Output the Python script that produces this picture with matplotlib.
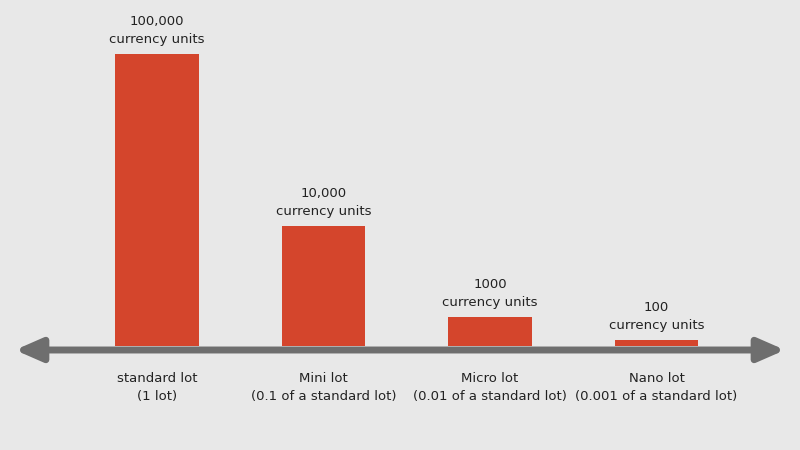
import matplotlib.pyplot as plt

# chart values
lots = ["standard lot\n(1 lot)", "Mini lot\n(0.1 of a standard lot)",
        "Micro lot\n(0.01 of a standard lot)", "Nano lot\n(0.001 of a standard lot)"]
units = ["100,000", "10,000", "1000", "100"]
# bar heights as drawn (visual scale, not proportional)
heights = [292, 120, 29, 6]

bg = "#e8e8e8"
fig = plt.figure(figsize=(8, 4.5), dpi=100, facecolor=bg)
ax = fig.add_axes([0, 0, 1, 1])
ax.set_facecolor(bg)
ax.set_xlim(-157 / 166.5, 643 / 166.5)
ax.set_ylim(-100, 350)
ax.axis("off")

x = range(len(lots))
ax.bar(x, heights, width=0.5, bottom=4, color="#d4452c", zorder=2)

# axis arrow
ax.annotate("", xy=(785 / 166.5 - 157 / 166.5, 0), xytext=(15 / 166.5 - 157 / 166.5, 0),
            arrowprops=dict(arrowstyle="<|-|>,head_length=1.6,head_width=0.7",
                            color="#6e6e6e", lw=5, shrinkA=0, shrinkB=0), zorder=3)

for i, h in enumerate(heights):
    ax.text(i, h + 12, units[i] + "\ncurrency units", ha="center", va="bottom",
            fontsize=9.5, color="#222222", linespacing=1.5)
    ax.text(i, -22, lots[i], ha="center", va="top", fontsize=9.5,
            color="#222222", linespacing=1.5)

fig.savefig("out.png", dpi=100, facecolor=bg)
